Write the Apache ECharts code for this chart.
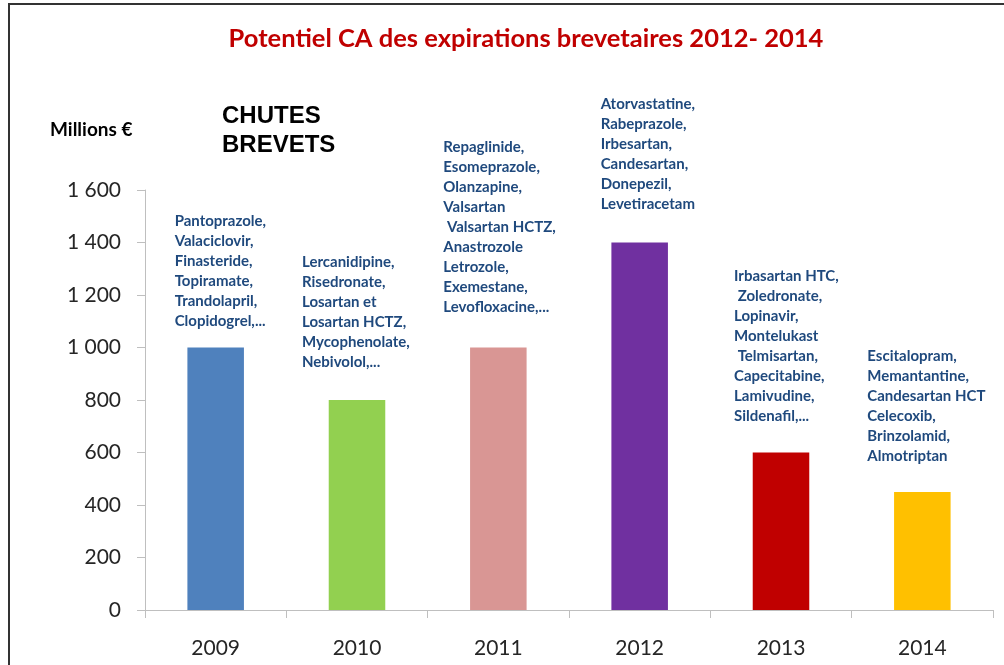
<!DOCTYPE html>
<html>
<head>
<meta charset="utf-8">
<script src="https://cdn.jsdelivr.net/npm/echarts@6/dist/echarts.min.js"></script>
<style>
  html, body { margin: 0; padding: 0; background: #fff; }
  #chart { width: 1004px; height: 665px; }
</style>
</head>
<body>
<div id="chart"></div>
<script>
// années et valeurs (millions €)
const years = ['2009', '2010', '2011', '2012', '2013', '2014'];
const values = [1000, 800, 1000, 1400, 600, 450];
const barColors = ['#4F81BD', '#92D050', '#D99694', '#7030A0', '#C00000', '#FFC000'];
const yTicks = [0, 200, 400, 600, 800, 1000, 1200, 1400, 1600];

// molécules dont le brevet tombe, par année
const drugs2009 = ['Pantoprazole,', 'Valaciclovir,', 'Finasteride,', 'Topiramate,', 'Trandolapril,', 'Clopidogrel,...'];
const drugs2010 = ['Lercanidipine,', 'Risedronate,', 'Losartan et', 'Losartan HCTZ,', 'Mycophenolate,', 'Nebivolol,...'];
const drugs2011 = ['Repaglinide,', 'Esomeprazole,', 'Olanzapine,', 'Valsartan', ' Valsartan HCTZ,', 'Anastrozole', 'Letrozole,', 'Exemestane,', 'Levofloxacine,...'];
const drugs2012 = ['Atorvastatine,', 'Rabeprazole,', 'Irbesartan,', 'Candesartan,', 'Donepezil,', 'Levetiracetam'];
const drugs2013 = ['Irbasartan HTC,', ' Zoledronate,', 'Lopinavir,', 'Montelukast', ' Telmisartan,', 'Capecitabine,', 'Lamivudine,', 'Sildenafil,...'];
const drugs2014 = ['Escitalopram,', 'Memantantine,', 'Candesartan HCT', 'Celecoxib,', 'Brinzolamid,', 'Almotriptan'];
const drugLists = [drugs2009, drugs2010, drugs2011, drugs2012, drugs2013, drugs2014];

// décalage des blocs de texte par rapport au haut de la barre
const labelOffsets = [[-41, -16], [-55, -28], [-55, -30], [-39, -28], [-47, -26], [-55, -26]];

const chart = echarts.init(document.getElementById('chart'));

const seriesData = values.map((v, i) => ({
  value: v,
  itemStyle: { color: barColors[i] },
  label: {
    show: true,
    position: 'top',
    distance: 0,
    align: 'left',
    verticalAlign: 'bottom',
    offset: labelOffsets[i],
    formatter: drugLists[i].join('\n'),
    color: '#1F497D',
    fontFamily: 'Lato',
    fontWeight: 'bold',
    fontSize: 15,
    lineHeight: 20
  }
}));

const option = {
  animation: false,
  title: {
    text: 'Potentiel CA des expirations brevetaires 2012- 2014',
    left: 521,
    textAlign: 'center',
    top: 21,
    textStyle: {
      color: '#C00000',
      fontFamily: 'Lato',
      fontWeight: 'bold',
      fontSize: 25.5
    }
  },
  graphic: [
    {
      type: 'rect',
      shape: { x: 9, y: 4, width: 1010, height: 680 },
      style: { fill: 'none', stroke: '#333', lineWidth: 2 },
      silent: true
    },
    {
      type: 'text',
      left: 50,
      top: 120,
      style: { text: 'Millions €', fill: '#000', font: 'bold 19px Lato' }
    },
    {
      type: 'text',
      left: 222,
      top: 102,
      style: { text: 'CHUTES\nBREVETS', fill: '#000', font: 'bold 24px "Liberation Sans"', lineHeight: 29 }
    }
  ],
  grid: {
    left: 145,
    right: 11,
    top: 190,
    bottom: 55,
    containLabel: false
  },
  xAxis: {
    type: 'category',
    data: years,
    axisLine: { lineStyle: { color: '#BFBFBF', width: 1 } },
    axisTick: { show: true, length: 8, lineStyle: { color: '#BFBFBF' } },
    axisLabel: {
      color: '#262626',
      fontFamily: 'Lato',
      fontSize: 21,
      margin: 28
    }
  },
  yAxis: {
    type: 'value',
    min: yTicks[0],
    max: yTicks[yTicks.length - 1],
    interval: 200,
    axisLine: { show: true, lineStyle: { color: '#BFBFBF', width: 1 } },
    axisTick: { show: true, length: 8, lineStyle: { color: '#BFBFBF' } },
    splitLine: { show: false },
    axisLabel: {
      color: '#262626',
      fontFamily: 'Lato',
      fontSize: 21,
      margin: 24,
      formatter: v => v >= 1000 ? Math.floor(v / 1000) + ' ' + String(v % 1000).padStart(3, '0') : String(v)
    }
  },
  series: [{
    type: 'bar',
    barWidth: '40%',
    data: seriesData
  }]
};

chart.setOption(option);
</script>
</body>
</html>
